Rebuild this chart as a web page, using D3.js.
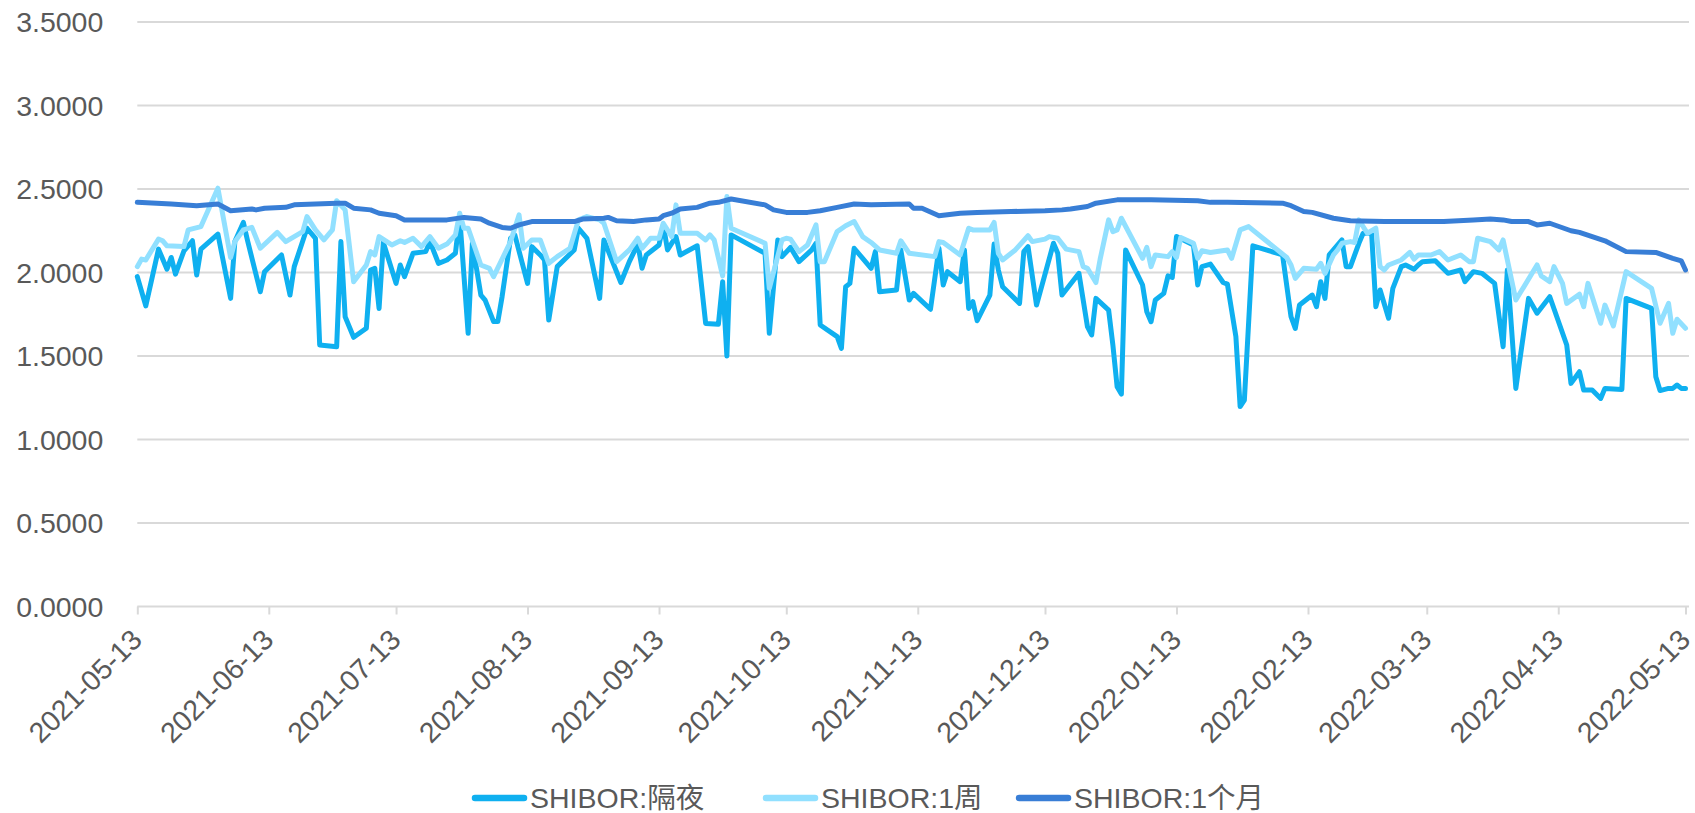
<!DOCTYPE html>
<html>
<head>
<meta charset="utf-8">
<script src="https://cdn.jsdelivr.net/npm/d3@7"></script>
<style>
  html, body { margin: 0; padding: 0; background: #ffffff; }
  svg { display: block; }
  text { font-family: "Liberation Sans", Arial, "Noto Sans CJK SC", sans-serif; fill: #595959; }
</style>
</head>
<body>
<svg id="chart" width="1695" height="813"></svg>
<script>
// ---------------- DATA ----------------
const seriesNames = ["SHIBOR:隔夜", "SHIBOR:1周", "SHIBOR:1个月"];
const yTickValues = [0, 0.5, 1.0, 1.5, 2.0, 2.5, 3.0, 3.5];
const xTickLabels = ["2021-05-13","2021-06-13","2021-07-13","2021-08-13","2021-09-13","2021-10-13",
  "2021-11-13","2021-12-13","2022-01-13","2022-02-13","2022-03-13","2022-04-13","2022-05-13"];

const overnight = [
["2021-05-13",1.975],["2021-05-15",1.80],["2021-05-18",2.14],["2021-05-20",2.02],["2021-05-21",2.09],
["2021-05-22",1.99],["2021-05-24",2.13],["2021-05-26",2.19],["2021-05-27",1.985],["2021-05-28",2.14],
["2021-06-01",2.23],["2021-06-04",1.845],["2021-06-05",2.185],["2021-06-07",2.30],["2021-06-08",2.19],
["2021-06-11",1.885],["2021-06-12",2.005],["2021-06-16",2.105],["2021-06-18",1.865],["2021-06-19",2.035],
["2021-06-22",2.265],["2021-06-24",2.205],["2021-06-25",1.566],["2021-06-29",1.556],["2021-06-30",2.185],
["2021-07-01",1.735],["2021-07-03",1.612],["2021-07-06",1.666],["2021-07-07",2.015],["2021-07-08",2.025],
["2021-07-09",1.785],["2021-07-10",2.18],["2021-07-13",1.935],["2021-07-14",2.045],["2021-07-15",1.975],
["2021-07-17",2.115],["2021-07-20",2.125],["2021-07-21",2.185],["2021-07-23",2.055],["2021-07-25",2.075],
["2021-07-27",2.115],["2021-07-28",2.335],["2021-07-30",1.636],["2021-07-31",2.175],["2021-08-02",1.865],
["2021-08-03",1.835],["2021-08-05",1.706],["2021-08-06",1.706],["2021-08-07",1.855],["2021-08-09",2.205],
["2021-08-10",2.225],["2021-08-13",1.935],["2021-08-14",2.155],["2021-08-16",2.105],["2021-08-17",2.075],
["2021-08-18",1.715],["2021-08-20",2.035],["2021-08-24",2.135],["2021-08-25",2.265],["2021-08-27",2.205],
["2021-08-30",1.845],["2021-08-31",2.195],["2021-09-04",1.94],["2021-09-06",2.065],["2021-09-08",2.17],
["2021-09-09",2.025],["2021-09-10",2.105],["2021-09-13",2.165],["2021-09-14",2.285],["2021-09-15",2.135],
["2021-09-17",2.215],["2021-09-18",2.105],["2021-09-22",2.16],["2021-09-24",1.695],["2021-09-27",1.69],
["2021-09-28",1.945],["2021-09-29",1.50],["2021-09-30",2.225],["2021-10-08",2.115],["2021-10-09",1.636],
["2021-10-11",2.195],["2021-10-12",2.095],["2021-10-14",2.15],["2021-10-16",2.065],["2021-10-19",2.135],
["2021-10-20",2.175],["2021-10-21",1.686],["2021-10-25",1.616],["2021-10-26",1.546],["2021-10-27",1.915],
["2021-10-28",1.935],["2021-10-29",2.145],["2021-11-02",2.025],["2021-11-03",2.125],["2021-11-04",1.885],
["2021-11-08",1.895],["2021-11-09",2.135],["2021-11-11",1.835],["2021-11-12",1.875],["2021-11-16",1.78],
["2021-11-18",2.145],["2021-11-19",1.925],["2021-11-20",2.005],["2021-11-23",1.945],["2021-11-24",2.135],
["2021-11-25",1.785],["2021-11-26",1.825],["2021-11-27",1.711],["2021-11-30",1.865],["2021-12-01",2.17],
["2021-12-02",2.015],["2021-12-03",1.915],["2021-12-07",1.815],["2021-12-08",2.125],["2021-12-09",2.155],
["2021-12-11",1.805],["2021-12-15",2.175],["2021-12-16",2.115],["2021-12-17",1.865],["2021-12-21",1.995],
["2021-12-23",1.676],["2021-12-24",1.626],["2021-12-25",1.845],["2021-12-28",1.775],["2021-12-29",1.566],
["2021-12-30",1.316],["2021-12-31",1.272],["2022-01-01",2.135],["2022-01-05",1.925],["2022-01-06",1.765],
["2022-01-07",1.705],["2022-01-08",1.835],["2022-01-10",1.875],["2022-01-11",1.98],["2022-01-12",1.97],
["2022-01-13",2.215],["2022-01-17",2.165],["2022-01-18",1.925],["2022-01-19",2.035],["2022-01-21",2.05],
["2022-01-24",1.94],["2022-01-25",1.93],["2022-01-27",1.616],["2022-01-28",1.197],["2022-01-29",1.236],
["2022-01-31",2.16],["2022-02-07",2.105],["2022-02-09",1.735],["2022-02-10",1.665],["2022-02-11",1.805],
["2022-02-14",1.865],["2022-02-15",1.795],["2022-02-16",1.945],["2022-02-17",1.845],["2022-02-18",2.105],
["2022-02-21",2.195],["2022-02-22",2.035],["2022-02-23",2.035],["2022-02-25",2.175],["2022-02-26",2.235],
["2022-02-28",2.235],["2022-03-01",1.795],["2022-03-02",1.895],["2022-03-04",1.726],["2022-03-05",1.905],
["2022-03-07",2.035],["2022-03-08",2.045],["2022-03-10",2.02],["2022-03-11",2.045],["2022-03-12",2.065],
["2022-03-15",2.07],["2022-03-18",1.995],["2022-03-21",2.015],["2022-03-22",1.945],["2022-03-24",2.005],
["2022-03-26",1.995],["2022-03-29",1.935],["2022-03-31",1.556],["2022-04-01",2.015],["2022-04-03",1.306],
["2022-04-06",1.845],["2022-04-08",1.756],["2022-04-11",1.855],["2022-04-15",1.566],["2022-04-16",1.336],
["2022-04-18",1.406],["2022-04-19",1.296],["2022-04-21",1.296],["2022-04-23",1.246],["2022-04-24",1.306],
["2022-04-28",1.30],["2022-04-29",1.845],["2022-05-05",1.785],["2022-05-06",1.376],["2022-05-07",1.293],
["2022-05-09",1.306],["2022-05-10",1.306],["2022-05-11",1.326],["2022-05-12",1.306],["2022-05-13",1.306]
];

const oneWeek = [
["2021-05-13",2.035],["2021-05-14",2.08],["2021-05-15",2.075],["2021-05-18",2.20],["2021-05-19",2.19],
["2021-05-20",2.16],["2021-05-24",2.155],["2021-05-25",2.255],["2021-05-28",2.275],["2021-06-01",2.505],
["2021-06-04",2.09],["2021-06-05",2.185],["2021-06-07",2.255],["2021-06-09",2.27],["2021-06-11",2.145],
["2021-06-15",2.24],["2021-06-17",2.185],["2021-06-21",2.245],["2021-06-22",2.335],["2021-06-24",2.255],
["2021-06-26",2.195],["2021-06-28",2.255],["2021-06-29",2.43],["2021-07-01",2.375],["2021-07-03",1.945],
["2021-07-06",2.045],["2021-07-07",2.125],["2021-07-08",2.105],["2021-07-09",2.215],["2021-07-12",2.165],
["2021-07-14",2.19],["2021-07-15",2.18],["2021-07-17",2.205],["2021-07-19",2.155],["2021-07-21",2.215],
["2021-07-23",2.145],["2021-07-25",2.17],["2021-07-27",2.225],["2021-07-28",2.355],["2021-07-29",2.265],
["2021-07-30",2.265],["2021-08-02",2.045],["2021-08-04",2.025],["2021-08-05",1.975],["2021-08-09",2.185],
["2021-08-11",2.345],["2021-08-12",2.145],["2021-08-14",2.195],["2021-08-16",2.195],["2021-08-18",2.055],
["2021-08-20",2.095],["2021-08-23",2.145],["2021-08-25",2.315],["2021-08-27",2.335],["2021-08-30",2.315],
["2021-08-31",2.295],["2021-09-03",2.065],["2021-09-06",2.135],["2021-09-08",2.205],["2021-09-09",2.145],
["2021-09-11",2.205],["2021-09-13",2.205],["2021-09-14",2.295],["2021-09-16",2.215],["2021-09-17",2.405],
["2021-09-18",2.235],["2021-09-22",2.235],["2021-09-24",2.195],["2021-09-25",2.225],["2021-09-26",2.195],
["2021-09-28",1.98],["2021-09-29",2.455],["2021-09-30",2.265],["2021-10-08",2.175],["2021-10-09",1.905],
["2021-10-12",2.195],["2021-10-13",2.205],["2021-10-14",2.20],["2021-10-16",2.125],["2021-10-18",2.165],
["2021-10-20",2.285],["2021-10-21",2.065],["2021-10-22",2.065],["2021-10-25",2.245],["2021-10-27",2.28],
["2021-10-29",2.305],["2021-10-31",2.215],["2021-11-02",2.18],["2021-11-04",2.135],["2021-11-08",2.115],
["2021-11-09",2.19],["2021-11-11",2.115],["2021-11-17",2.095],["2021-11-18",2.185],["2021-11-19",2.18],
["2021-11-23",2.105],["2021-11-25",2.265],["2021-11-26",2.255],["2021-11-30",2.255],["2021-12-01",2.30],
["2021-12-02",2.115],["2021-12-03",2.075],["2021-12-06",2.135],["2021-12-09",2.22],["2021-12-10",2.185],
["2021-12-13",2.20],["2021-12-14",2.215],["2021-12-16",2.205],["2021-12-18",2.14],["2021-12-21",2.125],
["2021-12-22",2.035],["2021-12-23",2.025],["2021-12-25",1.94],["2021-12-26",2.08],["2021-12-28",2.315],
["2021-12-29",2.245],["2021-12-30",2.255],["2021-12-31",2.325],["2022-01-05",2.085],["2022-01-06",2.15],
["2022-01-07",2.035],["2022-01-08",2.105],["2022-01-11",2.095],["2022-01-12",2.125],["2022-01-13",2.09],
["2022-01-14",2.21],["2022-01-17",2.175],["2022-01-18",2.085],["2022-01-19",2.13],["2022-01-21",2.12],
["2022-01-25",2.135],["2022-01-26",2.085],["2022-01-28",2.255],["2022-01-30",2.275],["2022-02-08",2.09],
["2022-02-09",2.045],["2022-02-10",1.965],["2022-02-12",2.025],["2022-02-15",2.02],["2022-02-16",2.055],
["2022-02-17",1.995],["2022-02-19",2.105],["2022-02-20",2.135],["2022-02-21",2.175],["2022-02-23",2.185],
["2022-02-24",2.18],["2022-02-25",2.315],["2022-02-27",2.235],["2022-03-01",2.265],["2022-03-02",2.035],
["2022-03-03",2.015],["2022-03-04",2.045],["2022-03-07",2.075],["2022-03-09",2.12],["2022-03-10",2.08],
["2022-03-11",2.105],["2022-03-14",2.105],["2022-03-16",2.125],["2022-03-18",2.075],["2022-03-21",2.105],
["2022-03-23",2.065],["2022-03-24",2.065],["2022-03-25",2.205],["2022-03-28",2.185],["2022-03-30",2.135],
["2022-03-31",2.195],["2022-04-03",1.835],["2022-04-08",2.045],["2022-04-09",1.98],["2022-04-11",1.945],
["2022-04-12",2.035],["2022-04-14",1.935],["2022-04-15",1.815],["2022-04-18",1.87],["2022-04-19",1.795],
["2022-04-20",1.935],["2022-04-23",1.696],["2022-04-24",1.805],["2022-04-26",1.68],["2022-04-29",2.005],
["2022-05-05",1.905],["2022-05-07",1.696],["2022-05-09",1.815],["2022-05-10",1.636],["2022-05-11",1.72],
["2022-05-13",1.666]
];

const oneMonth = [
["2021-05-13",2.42],["2021-05-21",2.41],["2021-05-27",2.40],["2021-06-01",2.41],["2021-06-04",2.37],
["2021-06-09",2.38],["2021-06-10",2.375],["2021-06-12",2.385],["2021-06-17",2.39],["2021-06-19",2.405],
["2021-06-29",2.415],["2021-07-01",2.415],["2021-07-03",2.385],["2021-07-07",2.375],["2021-07-09",2.355],
["2021-07-13",2.34],["2021-07-15",2.315],["2021-07-25",2.315],["2021-07-29",2.33],["2021-08-02",2.32],
["2021-08-04",2.295],["2021-08-07",2.27],["2021-08-09",2.265],["2021-08-11",2.285],["2021-08-14",2.305],
["2021-08-24",2.305],["2021-08-26",2.32],["2021-08-31",2.325],["2021-09-01",2.33],["2021-09-03",2.31],
["2021-09-07",2.305],["2021-09-10",2.315],["2021-09-13",2.32],["2021-09-14",2.34],["2021-09-16",2.355],
["2021-09-18",2.38],["2021-09-22",2.39],["2021-09-25",2.415],["2021-09-27",2.42],["2021-09-30",2.44],
["2021-10-08",2.405],["2021-10-10",2.375],["2021-10-13",2.36],["2021-10-18",2.36],["2021-10-21",2.37],
["2021-10-25",2.39],["2021-10-29",2.41],["2021-11-02",2.405],["2021-11-11",2.41],["2021-11-12",2.385],
["2021-11-14",2.385],["2021-11-18",2.34],["2021-11-23",2.355],["2021-11-27",2.36],["2021-12-05",2.365],
["2021-12-13",2.37],["2021-12-17",2.375],["2021-12-19",2.38],["2021-12-23",2.395],["2021-12-25",2.415],
["2021-12-30",2.435],["2022-01-07",2.435],["2022-01-18",2.43],["2022-01-21",2.42],["2022-01-25",2.42],
["2022-02-07",2.415],["2022-02-09",2.40],["2022-02-12",2.365],["2022-02-14",2.36],["2022-02-19",2.325],
["2022-02-23",2.31],["2022-03-03",2.305],["2022-03-17",2.305],["2022-03-24",2.315],["2022-03-28",2.32],
["2022-03-31",2.315],["2022-04-02",2.305],["2022-04-06",2.305],["2022-04-08",2.285],["2022-04-11",2.295],
["2022-04-16",2.25],["2022-04-18",2.24],["2022-04-24",2.19],["2022-04-29",2.125],["2022-05-06",2.12],
["2022-05-10",2.085],["2022-05-12",2.07],["2022-05-13",2.015]
];

const seriesColors = ["#0FB0F0", "#91E0FF", "#387ED6"];

// ---------------- CHART ----------------
const parse = d3.timeParse("%Y-%m-%d");
const svg = d3.select("#chart");

const plotLeft = 137.3, plotRight = 1685.5, plotTop = 22, plotBottom = 606.5;
const gridRight = 1689;

const x = d3.scaleTime()
  .domain([parse(xTickLabels[0]), parse(xTickLabels[xTickLabels.length - 1])])
  .range([plotLeft, plotRight]);
const y = d3.scaleLinear().domain([0, 3.5]).range([plotBottom, plotTop]);

const fontSize = 28.5;

// horizontal gridlines
svg.append("g").selectAll("line").data(yTickValues).join("line")
  .attr("x1", plotLeft).attr("x2", gridRight)
  .attr("y1", d => y(d)).attr("y2", d => y(d))
  .attr("stroke", "#D9D9D9").attr("stroke-width", 2);

// y axis labels
const yAxis = d3.axisLeft(y).tickValues(yTickValues).tickFormat(d3.format(".4f")).tickSize(0).tickPadding(0);
const gy = svg.append("g").attr("transform", `translate(${plotLeft - 34},0)`).call(yAxis);
gy.select(".domain").remove();
gy.selectAll("text").attr("font-size", fontSize).attr("fill", "#595959")
  .style("font-family", '"Liberation Sans", Arial, sans-serif').attr("dy", "0.35em");

// x axis
const xAxis = d3.axisBottom(x).tickValues(xTickLabels.map(parse)).tickFormat(d3.timeFormat("%Y-%m-%d"))
  .tickSize(8).tickPadding(0);
const gx = svg.append("g").attr("transform", `translate(0,${plotBottom})`).call(xAxis);
gx.select(".domain").remove();
gx.selectAll(".tick line").attr("stroke", "#D9D9D9").attr("stroke-width", 2);
gx.selectAll("text")
  .attr("font-size", fontSize).attr("fill", "#595959")
  .style("font-family", '"Liberation Sans", Arial, sans-serif')
  .attr("text-anchor", "end").attr("y", 0).attr("dy", 0)
  .attr("transform", "translate(6,35) rotate(-45)");

// lines
const line = d3.line().x(d => x(parse(d[0]))).y(d => y(d[1]));
const allSeries = [overnight, oneWeek, oneMonth];
svg.append("g").selectAll("path").data(allSeries).join("path")
  .attr("d", d => line(d))
  .attr("fill", "none")
  .attr("stroke", (d, i) => seriesColors[i])
  .attr("stroke-width", 5)
  .attr("stroke-linejoin", "round")
  .attr("stroke-linecap", "round");

// legend
const legendOffsets = [0, 291, 544];
const legend = svg.append("g").attr("transform", "translate(472,798)");
seriesNames.forEach((name, i) => {
  const g = legend.append("g").attr("transform", `translate(${legendOffsets[i]},0)`);
  g.append("line").attr("x1", 3).attr("x2", 52).attr("y1", 0).attr("y2", 0)
    .attr("stroke", seriesColors[i]).attr("stroke-width", 6.5).attr("stroke-linecap", "round");
  g.append("text").attr("x", 58).attr("y", 0).attr("dy", "0.35em")
    .attr("font-size", fontSize).attr("fill", "#595959").text(name);
});
</script>
</body>
</html>
